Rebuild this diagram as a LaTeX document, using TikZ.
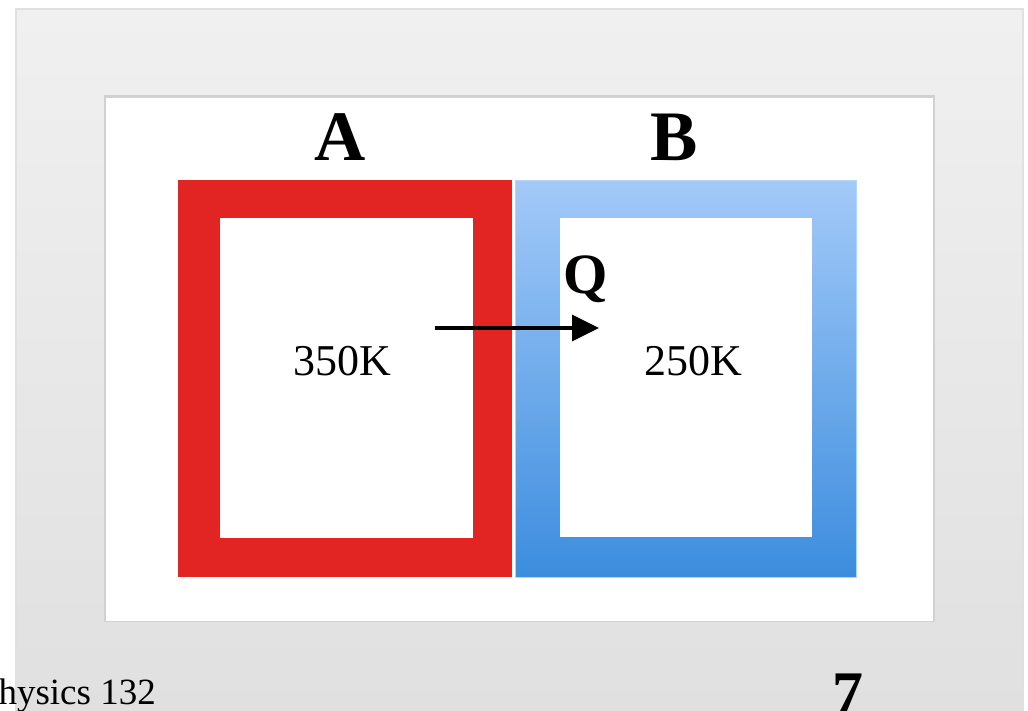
\documentclass[tikz,border=0pt]{standalone}
\usepackage{fontspec}
\setmainfont{Liberation Serif}
\usetikzlibrary{arrows.meta}
\definecolor{hotred}{RGB}{226,36,35}
\definecolor{coldtop}{RGB}{163,202,248}
\definecolor{coldbot}{RGB}{60,141,222}
\definecolor{panelTop}{RGB}{240,240,240}
\definecolor{panelBot}{RGB}{224,224,224}
\tikzset{
  frame/.style={draw=none, minimum width=0pt, inner sep=0pt},
  lbl/.style={font=\fontsize{71}{71}\selectfont\bfseries, inner sep=0pt},
  temp/.style={font=\fontsize{44}{44}\selectfont, inner sep=0pt},
}
\begin{document}
\begin{tikzpicture}[x=1pt,y=-1pt]
\useasboundingbox (0,0) rectangle (1028,710);
\fill[white] (0,0) rectangle (1028,710);
% outer grey panel with faint shadow
\fill[black!12] (15,8) rectangle (1024,712);
\shade[top color=panelTop, bottom color=panelBot] (17,10) rectangle (1022,712);
% white slide area with shadow
\fill[black!18] (104,95) rectangle (935,622);
\fill[white] (106,98) rectangle (933,621);
% box A
\fill[hotred] (178,180) rectangle (512,577);
\fill[white] (220,218) rectangle (473,538);
\node[frame, minimum width=334pt, minimum height=397pt] (boxA) at (345,378.5) {};
% box B
\shade[top color=coldtop, bottom color=coldbot] (515,180) rectangle (856,577);
\draw[coldtop!80!white, line width=0.8pt] (515,180) rectangle (856,577);
\fill[white] (560,218) rectangle (812,537);
\node[frame, minimum width=341pt, minimum height=397pt] (boxB) at (685.5,378.5) {};
% labels
\node[lbl, anchor=base] (labA) at (340,160) {A};
\node[lbl, anchor=base] (labB) at (674,160) {B};
\node[temp, anchor=base] (tA) at (342,375) {350K};
\node[temp, anchor=base] (tB) at (693,375) {250K};
\node[font=\fontsize{57}{57}\selectfont\bfseries, inner sep=0pt, anchor=base] (Q) at (586,293) {Q};
% heat flow arrow
\coordinate (qs) at (435,328);
\coordinate (qe) at (599,328);
\draw[line width=3.5pt, -{Triangle[length=27pt, width=26pt]}] (qs) -- (qe);
% footer (cut by the page edge, as in the reference)
\node[font=\fontsize{37}{37}\selectfont, inner sep=0pt, anchor=base east] (foot) at (156,704) {Physics 132};
\node[font=\fontsize{62}{62}\selectfont\bfseries, inner sep=0pt, anchor=base] (pg) at (848,714) {7};
\end{tikzpicture}
\end{document}
